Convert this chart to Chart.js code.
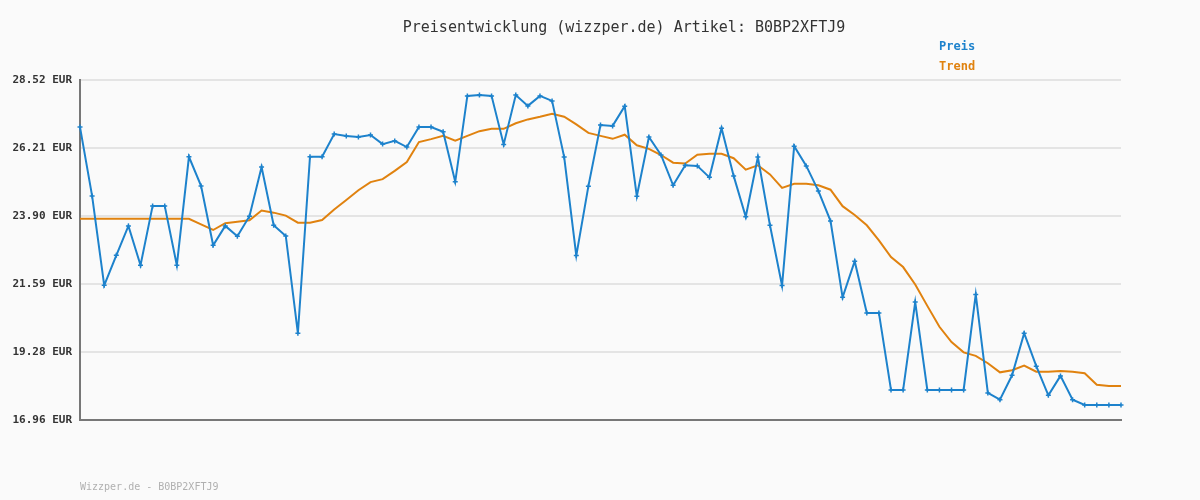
<!DOCTYPE html>
<html>
<head>
<meta charset="utf-8">
<script src="https://cdn.jsdelivr.net/npm/chart.js@4/dist/chart.umd.min.js"></script>
<style>
    body { margin: 0; background: #fafafa; }
    #wrap { width: 1200px; height: 500px; }
</style>
</head>
<body>
<div id="wrap"><canvas id="priceChart" width="1200" height="500"></canvas></div>
<script>
const chartTitle = "Preisentwicklung (wizzper.de) Artikel: B0BP2XFTJ9";
const footerText = "Wizzper.de - B0BP2XFTJ9";
const seriesNames = ["Preis", "Trend"];

// Y axis ticks as printed on the chart
const yTicks = [16.96, 19.28, 21.59, 23.90, 26.21, 28.52];

const priceValues = [
    26.92, 24.58, 21.54, 22.56, 23.56, 22.22, 24.24, 24.24, 22.22, 25.91,
    24.92, 22.90, 23.56, 23.21, 23.89, 25.56, 23.58, 23.22, 19.91, 25.91,
    25.91, 26.68, 26.62, 26.58, 26.65, 26.34, 26.45, 26.24, 26.92, 26.92,
    26.76, 25.06, 27.98, 28.01, 27.98, 26.33, 28.01, 27.64, 27.98, 27.81,
    25.90, 22.55, 24.91, 26.99, 26.96, 27.63, 24.57, 26.58, 25.97, 24.94,
    25.62, 25.60, 25.21, 26.88, 25.26, 23.87, 25.90, 23.58, 21.53, 26.27,
    25.60, 24.75, 23.73, 21.13, 22.36, 20.60, 20.60, 17.98, 17.98, 20.97,
    17.98, 17.98, 17.98, 17.98, 21.23, 17.88, 17.65, 18.48, 19.91, 18.79,
    17.80, 18.46, 17.65, 17.47, 17.47, 17.47, 17.47
];

const trendValues = [
    23.80, 23.80, 23.80, 23.80, 23.80, 23.80, 23.80, 23.80, 23.80, 23.80,
    23.61, 23.42, 23.65, 23.70, 23.75, 24.08, 24.01, 23.91, 23.67, 23.67,
    23.76, 24.12, 24.44, 24.77, 25.05, 25.15, 25.43, 25.73, 26.41, 26.51,
    26.62, 26.46, 26.62, 26.78, 26.86, 26.86, 27.05, 27.18, 27.27, 27.37,
    27.27, 27.01, 26.72, 26.62, 26.52, 26.66, 26.30, 26.18, 25.97, 25.71,
    25.68, 25.98, 26.01, 26.01, 25.86, 25.47, 25.62, 25.31, 24.85, 24.99,
    24.99, 24.94, 24.79, 24.23, 23.93, 23.58, 23.07, 22.50, 22.16, 21.57,
    20.84, 20.13, 19.61, 19.26, 19.14, 18.89, 18.58, 18.65, 18.81, 18.60,
    18.60, 18.63, 18.60, 18.55, 18.16, 18.12, 18.12
];

const pointLabels = priceValues.map((_, i) => String(i + 1));

const blue = "#1d82cc";
const orange = "#e0820f";
const mono = "'DejaVu Sans Mono', 'Liberation Mono', monospace";

// title, legend text and footer drawn straight on the canvas
const textPlugin = {
    id: 'texts',
    afterDraw(chart) {
        const ctx = chart.ctx;
        ctx.save();
        ctx.textBaseline = 'middle';

        ctx.font = "15px " + mono;
        ctx.fillStyle = "#333";
        ctx.textAlign = 'center';
        ctx.fillText(chartTitle, 624, 28);

        ctx.textAlign = 'left';
        ctx.font = "bold 12px " + mono;
        ctx.fillStyle = blue;
        ctx.fillText(seriesNames[0], 939, 47);
        ctx.fillStyle = orange;
        ctx.fillText(seriesNames[1], 939, 67);

        ctx.font = "10px " + mono;
        ctx.fillStyle = "#b0b0b0";
        ctx.fillText(footerText, 80, 487);
        ctx.restore();
    }
};

new Chart(document.getElementById('priceChart'), {
    type: 'line',
    data: {
        labels: pointLabels,
        datasets: [{
            label: seriesNames[1],
            data: trendValues,
            borderColor: orange,
            borderWidth: 2,
            pointRadius: 0,
            tension: 0,
            order: 2
        },
        {
            label: seriesNames[0],
            data: priceValues,
            borderColor: blue,
            backgroundColor: blue,
            borderWidth: 2,
            pointStyle: 'cross',
            pointRadius: 2.5,
            pointBorderWidth: 1.5,
            pointBorderColor: blue,
            tension: 0,
            order: 1
        }]
    },
    options: {
        responsive: false,
        animation: false,
        layout: {
            padding: { left: 0, right: 79, top: 80, bottom: 80 }
        },
        plugins: {
            legend: { display: false },
            title: { display: false },
            tooltip: { enabled: false }
        },
        scales: {
            x: {
                offset: false,
                grid: { display: false, drawTicks: false },
                ticks: { display: false },
                border: { display: true, color: '#777', width: 2 },
                afterFit: s => { s.height = 0; }
            },
            y: {
                min: yTicks[0],
                max: yTicks[yTicks.length - 1],
                afterBuildTicks: s => { s.ticks = yTicks.map(v => ({ value: v })); },
                grid: { color: '#e4e4e4', lineWidth: 2, drawTicks: false },
                border: { display: true, color: '#777', width: 2 },
                ticks: {
                    padding: 8,
                    color: '#333',
                    font: { family: mono, size: 11, weight: 'bold' },
                    callback: v => v.toFixed(2) + ' EUR'
                },
                afterFit: s => { s.width = 80; }
            }
        }
    },
    plugins: [textPlugin]
});
</script>
</body>
</html>
